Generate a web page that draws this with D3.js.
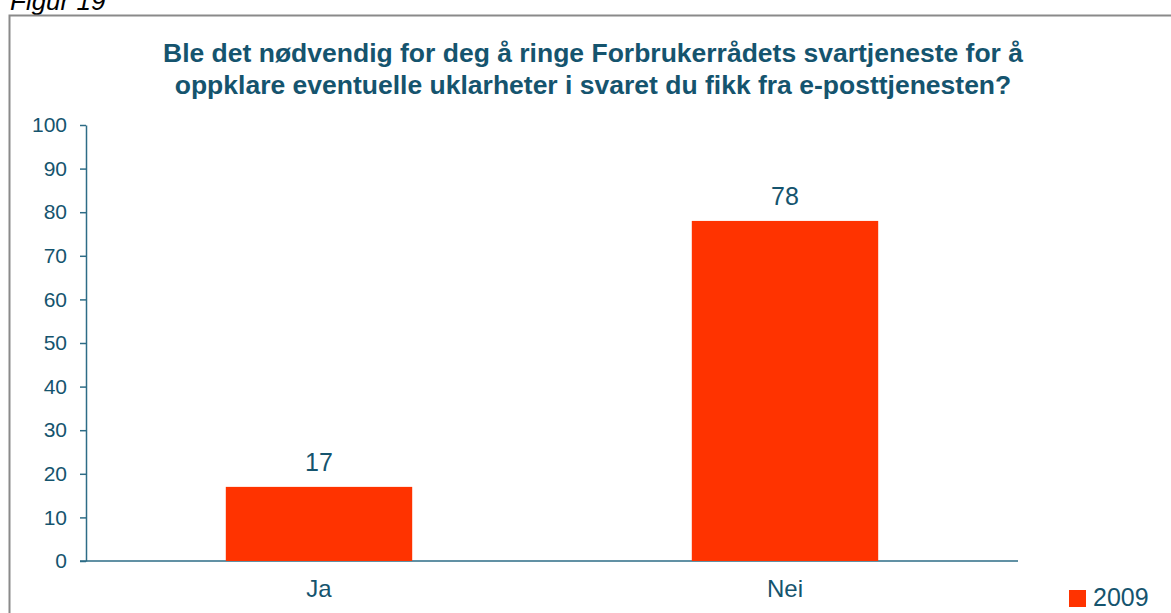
<!DOCTYPE html>
<html><head><meta charset="utf-8">
<script src="https://cdn.jsdelivr.net/npm/d3@7"></script>
<style>body{margin:0;background:#fff;}svg{display:block;font-family:"Liberation Sans",Arial,sans-serif;}</style>
</head><body>
<svg id="c" width="1171" height="613"></svg>
<script>
const categories = ["Ja", "Nei"];
const values2009 = [17, 78];
const yTicks = [0,10,20,30,40,50,60,70,80,90,100];
const seriesName = "2009";
const titleLines = ["Ble det nødvendig for deg å ringe Forbrukerrådets svartjeneste for å",
                    "oppklare eventuelle uklarheter i svaret du fikk fra e-posttjenesten?"];

const svg = d3.select("#c");
const textColor = "#15546e", axisColor = "#2d6c86", barColor = "#ff3300";

svg.append("text").attr("x", 10).attr("y", 10).attr("font-style","italic").attr("font-size",26).attr("fill","#000").text("Figur 19");
svg.append("rect").attr("x",9.5).attr("y",15.5).attr("width",1180).attr("height",620).attr("fill","none").attr("stroke","#8a8a8a").attr("stroke-width",2);

svg.append("g").selectAll("text").data(titleLines).join("text")
  .attr("x",593).attr("y",(d,i)=>62+i*32).attr("text-anchor","middle")
  .attr("font-weight","bold").attr("font-size",26.5).attr("fill",textColor).text(d=>d);

const x0=86, x1=1018, yTop=125, yBot=561;
const x = d3.scaleBand().domain(categories).range([x0,x1]).paddingInner(0.6).paddingOuter(0.3);
const y = d3.scaleLinear().domain([0,100]).range([yBot,yTop]);

const ya = svg.append("g").attr("transform",`translate(${x0},0)`)
  .call(d3.axisLeft(y).tickValues(yTicks).tickSize(6).tickSizeOuter(0).tickPadding(13));
ya.select(".domain").attr("stroke",axisColor).attr("stroke-width",1.5);
ya.selectAll(".tick line").attr("stroke",axisColor).attr("stroke-width",1.5);
ya.selectAll(".tick text").attr("fill",textColor).attr("font-size",21).attr("font-family","Liberation Sans, Arial, sans-serif");

const xa = svg.append("g").attr("transform",`translate(0,${yBot})`)
  .call(d3.axisBottom(x).tickSize(0).tickSizeOuter(0).tickPadding(19));
xa.select(".domain").attr("stroke",axisColor).attr("stroke-width",1.5).attr("d",`M${x0-6},0H${x1}`);
xa.selectAll(".tick text").attr("fill",textColor).attr("font-size",24).attr("font-family","Liberation Sans, Arial, sans-serif");

svg.append("g").selectAll("rect").data(categories).join("rect")
  .attr("x",d=>x(d)).attr("width",x.bandwidth())
  .attr("y",(d,i)=>y(values2009[i])).attr("height",(d,i)=>y(0)-y(values2009[i]))
  .attr("fill",barColor);

svg.append("g").selectAll("text").data(categories).join("text")
  .attr("x",d=>x(d)+x.bandwidth()/2).attr("y",(d,i)=>y(values2009[i])-16)
  .attr("text-anchor","middle").attr("font-size",25).attr("fill",textColor)
  .text((d,i)=>values2009[i]);

svg.append("rect").attr("x",1069).attr("y",590).attr("width",17).attr("height",17).attr("fill",barColor);
svg.append("text").attr("x",1093).attr("y",606).attr("font-size",25).attr("fill",textColor).text(seriesName);
</script>
</body></html>
